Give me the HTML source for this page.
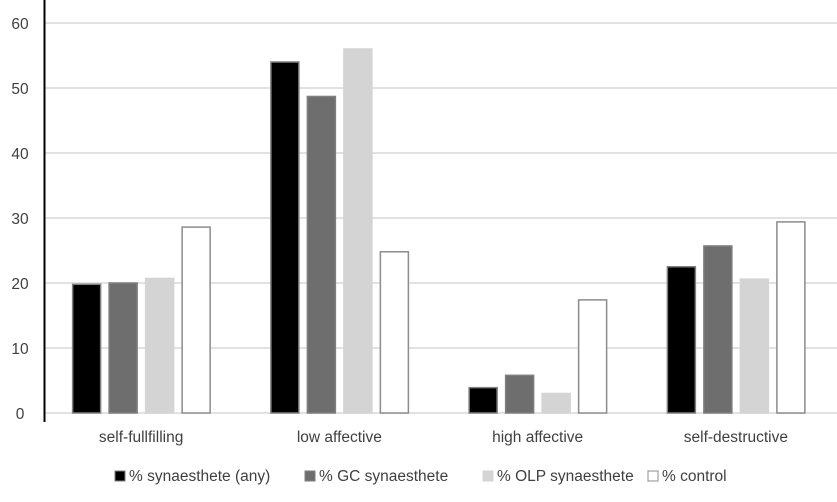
<!DOCTYPE html>
<html><head><meta charset="utf-8"><style>
body{margin:0;background:#fff;}
svg text{font-family:"Liberation Sans",sans-serif;fill:#404040;}
</style></head><body>
<svg id="c" width="837" height="497"></svg>
<script>
const categories=["self-fullfilling","low affective","high affective","self-destructive"];
const seriesNames=["% synaesthete (any)","% GC synaesthete","% OLP synaesthete","% control"];
const synAny=[19.8,54,3.9,22.5];
const synGC=[20,48.7,5.8,25.7];
const synOLP=[20.7,56,3.0,20.6];
const control=[28.6,24.8,17.4,29.4];
const yTicks=[0,10,20,30,40,50,60];
const series=[synAny,synGC,synOLP,control];
const fills=["#000","#6e6e6e","#d4d4d4","#fff"];
const strokes=["#7f7f7f","#7f7f7f","#d4d4d4","#8c8c8c"];
const svg=document.getElementById('c');const NS="http://www.w3.org/2000/svg";
function mk(t,a,p){const e=document.createElementNS(NS,t);for(const k in a)e.setAttribute(k,a[k]);(p||svg).appendChild(e);return e;}
const x0=44,x1=837,y0=413,yTop=23;
const y=v=>y0-(v/60)*(y0-yTop);
const bw=(x1-x0)/categories.length;
yTicks.forEach(t=>{
 const l=mk('line',{x1:x0,x2:x1,y1:y(t),y2:y(t),stroke:'#d9d9d9','stroke-width':1.5});
 
 
 const tx=mk('text',{x:20,y:y(t)+6,'text-anchor':'middle','font-size':15.5});tx.textContent=t;
 
 
});
categories.forEach((c,i)=>{
 const cx=x0+bw*(i+0.5);
 series.forEach((s,j)=>{
  const bx=cx-70.5+j*36.5;
  const r=mk('rect',{x:bx,y:y(s[i]),width:28,height:y0-y(s[i]),fill:fills[j],stroke:strokes[j],'stroke-width':1.5});
  
  
 });
 const tx=mk('text',{x:cx-2,y:442,'text-anchor':'middle','font-size':15.5});tx.textContent=c;
 
 
});
const ax=mk('line',{x1:44.5,x2:44.5,y1:0,y2:422,stroke:'#000','stroke-width':2});


const lx=[115,305,483,648];
seriesNames.forEach((n,j)=>{
 const g=mk('g',{});
 
 
 mk('rect',{x:lx[j],y:471,width:10,height:10,fill:fills[j],stroke:strokes[j]},g);
 const t=mk('text',{x:lx[j]+14,y:481,'font-size':15.5},g);t.textContent=n;
});
</script>
</body></html>
